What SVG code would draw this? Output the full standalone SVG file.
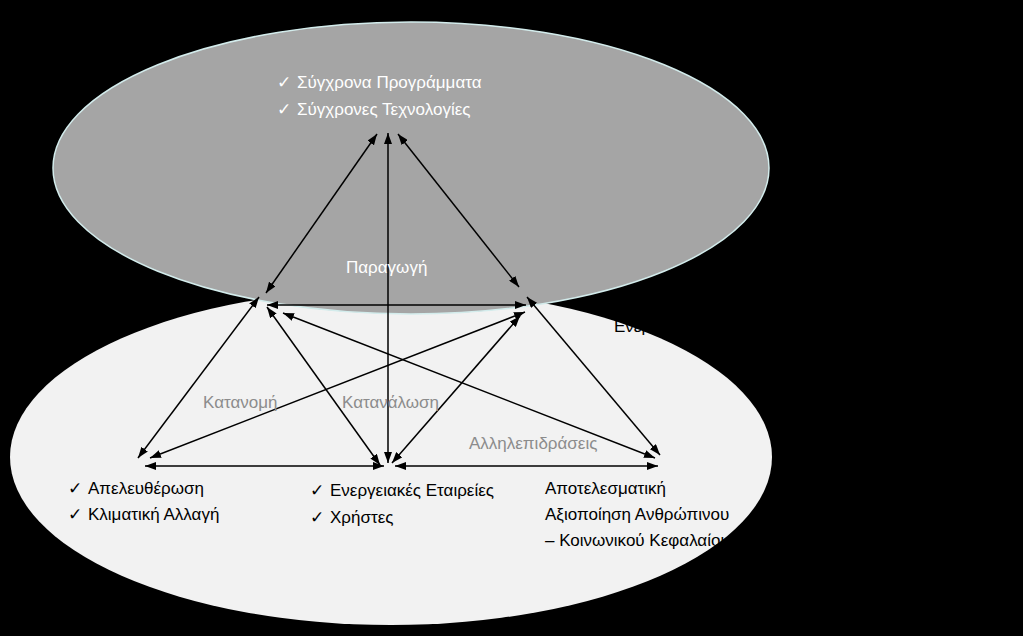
<svg xmlns="http://www.w3.org/2000/svg" width="1023" height="636" viewBox="0 0 1023 636">
<defs>
<marker id="ah" viewBox="0 0 11 8" refX="11" refY="4" markerWidth="11" markerHeight="8" markerUnits="userSpaceOnUse" orient="auto-start-reverse">
<path d="M0,0 L11,4 L0,8 z" fill="#000"/>
</marker>
<style>
text{font-family:"Liberation Sans",Arial,sans-serif;font-size:17px}
.w{fill:#ffffff}
.g{fill:#8c8c8c}
.b{fill:#000000}
.c line{stroke:#000;stroke-width:1.5;marker-start:url(#ah);marker-end:url(#ah)}
</style>
</defs>
<rect width="1023" height="636" fill="#000"/>
<g id="lower">
<ellipse cx="391" cy="457" rx="381" ry="168" fill="#f2f2f2"/>
</g>
<g id="upper">
<ellipse cx="411" cy="168" rx="358" ry="146" fill="#a5a5a5" stroke="#d3ecec" stroke-width="1.5"/>
</g>
<g id="connectors" class="c">
<line x1="266" y1="293" x2="377" y2="134"/>
<line x1="388" y1="463" x2="388" y2="133"/>
<line x1="519" y1="287" x2="398" y2="134"/>
<line x1="267" y1="305" x2="526" y2="305"/>
<line x1="138" y1="458" x2="259" y2="297"/>
<line x1="150" y1="458" x2="525" y2="312"/>
<line x1="267" y1="307" x2="380" y2="465"/>
<line x1="283" y1="313" x2="655" y2="458"/>
<line x1="520" y1="316" x2="392" y2="463"/>
<line x1="527" y1="297" x2="660" y2="455"/>
<line x1="145" y1="466" x2="384" y2="466"/>
<line x1="395" y1="466" x2="658" y2="466"/>
</g>
<g id="node-top">
<text class="w" x="277" y="88">✓</text>
<text class="w" x="297" y="88">Σύγχρονα Προγράμματα</text>
<text class="w" x="277" y="115">✓</text>
<text class="w" x="297" y="115">Σύγχρονες Τεχνολογίες</text>
<text class="w" x="346" y="273">Παραγωγή</text>
</g>
<g id="labels">
<text class="g" x="203" y="408">Κατανομή</text>
<text class="g" x="342" y="408">Κατανάλωση</text>
<text class="g" x="469" y="449">Αλληλεπιδράσεις</text>
</g>
<g id="node-left">
<text class="b" x="68" y="494">✓</text>
<text class="b" x="88" y="494">Απελευθέρωση</text>
<text class="b" x="68" y="520">✓</text>
<text class="b" x="88" y="520">Κλιματική Αλλαγή</text>
</g>
<g id="node-middle">
<text class="b" x="310" y="496">✓</text>
<text class="b" x="330" y="496">Ενεργειακές Εταιρείες</text>
<text class="b" x="310" y="523">✓</text>
<text class="b" x="330" y="523">Χρήστες</text>
</g>
<g id="node-right">
<text class="b" x="545" y="494">Αποτελεσματική</text>
<text class="b" x="545" y="520">Αξιοποίηση Ανθρώπινου</text>
<text class="b" x="545" y="546">– Κοινωνικού Κεφαλαίου</text>
</g>
<g id="hidden">
<text class="b" x="614" y="332">Ενεργειακή</text>
</g>
</svg>
